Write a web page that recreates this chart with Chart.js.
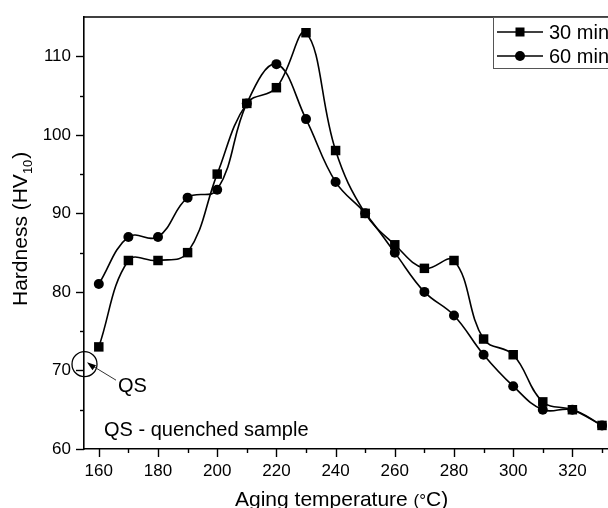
<!DOCTYPE html>
<html><head><meta charset="utf-8">
<script src="https://cdn.jsdelivr.net/npm/chart.js@4.4.1/dist/chart.umd.min.js"></script>
<style>
html,body{margin:0;padding:0;background:#fff;overflow:hidden;width:608px;height:508px;}
#wrap{position:absolute;left:0;top:0;width:640px;height:508px;}
</style></head>
<body><div id="wrap"><canvas id="c"></canvas></div>
<script>
const temperatures = [160,170,180,190,200,210,220,230,240,250,260,270,280,290,300,310,320,330];
const hv30 = [73,84,84,85,95,104,106,113,98,90,86,83,84,74,72,66,65,63];
const hv60 = [81,87,87,92,93,104,109,102,94,90,85,80,77,72,68,65,65,63];
const seriesNames = ['30 min','60 min'];
const xTicks = [160,170,180,190,200,210,220,230,240,250,260,270,280,290,300,310,320,330];
const xLabels = [160,180,200,220,240,260,280,300,320];
const yTicks = [60,65,70,75,80,85,90,95,100,105,110];
const yLabels = [60,70,80,90,100,110];
const qsPoint = {x:155, y:70.8};

const FONT = '"Liberation Sans", Arial, sans-serif';

const deco = {
  id:'deco',
  afterDraw(chart){
    const ctx = chart.ctx, ca = chart.chartArea;
    const xs = chart.scales.x, ys = chart.scales.y;
    ctx.save();
    ctx.strokeStyle = '#000';
    // top border
    ctx.lineWidth = 1.6;
    ctx.beginPath(); ctx.moveTo(ca.left, ca.top); ctx.lineTo(chart.width, ca.top); ctx.stroke();
    // tick marks
    ctx.lineWidth = 1.4;
    yTicks.forEach(v=>{
      const p = Math.round(ys.getPixelForValue(v))+0.5;
      const L = (v%10===0)?8:4;
      ctx.beginPath(); ctx.moveTo(ca.left-L, p); ctx.lineTo(ca.left, p); ctx.stroke();
    });
    xTicks.forEach(v=>{
      const p = Math.round(xs.getPixelForValue(v))+0.5;
      const L = (v%20===0)?8:4;
      ctx.beginPath(); ctx.moveTo(p, ca.bottom); ctx.lineTo(p, ca.bottom+L); ctx.stroke();
    });
    // axis titles
    ctx.fillStyle = '#000';
    ctx.textBaseline = 'alphabetic';
    ctx.textAlign = 'left';
    let x = 235, y = 506;
    ctx.font = '21px ' + FONT;
    const t1 = 'Aging temperature ';
    ctx.fillText(t1, x, y); x += ctx.measureText(t1).width;
    ctx.font = '17px ' + FONT;
    ctx.fillText('(°', x, y); x += ctx.measureText('(°').width;
    ctx.font = '21px ' + FONT;
    ctx.fillText('C)', x, y);
    // y title rotated
    ctx.save();
    ctx.translate(27, 306);
    ctx.rotate(-Math.PI/2);
    let yx = 0;
    ctx.font = '21px ' + FONT;
    ctx.fillText('Hardness (HV', 0, 0); yx += ctx.measureText('Hardness (HV').width;
    ctx.font = '13px ' + FONT;
    ctx.fillText('10', yx, 5); yx += ctx.measureText('10').width + 1;
    ctx.font = '21px ' + FONT;
    ctx.fillText(')', yx, 0);
    ctx.restore();
    // annotation
    const cx = xs.getPixelForValue(qsPoint.x), cy = ys.getPixelForValue(qsPoint.y);
    ctx.lineWidth = 1.3;
    ctx.beginPath(); ctx.arc(cx+0.5, cy, 12.5, 0, Math.PI*2); ctx.stroke();
    ctx.strokeStyle = '#333'; ctx.lineWidth = 1;
    ctx.beginPath(); ctx.moveTo(cx+4, cy-1); ctx.lineTo(cx+32, cy+16); ctx.stroke();
    ctx.fillStyle = '#000';
    ctx.beginPath(); ctx.moveTo(cx+3, cy-2); ctx.lineTo(cx+12, cy+1); ctx.lineTo(cx+8.5, cy+6); ctx.closePath(); ctx.fill();
    ctx.font = '20px ' + FONT;
    ctx.fillText('QS', cx+34, cy+28);
    ctx.fillText('QS - quenched sample', 104, 436);
    // legend
    ctx.strokeStyle = '#555'; ctx.lineWidth = 1;
    ctx.strokeRect(493.5, ca.top+0.5, 200, 51);
    ctx.strokeStyle = '#000'; ctx.lineWidth = 1.5;
    const rows = [32, 56];
    rows.forEach((ry,i)=>{
      ctx.beginPath(); ctx.moveTo(497, ry); ctx.lineTo(543, ry); ctx.stroke();
      ctx.fillStyle = '#000';
      if(i===0){ ctx.fillRect(515.5, ry-4.5, 9, 9); }
      else { ctx.beginPath(); ctx.arc(520, ry, 5, 0, Math.PI*2); ctx.fill(); }
      ctx.font = '20px ' + FONT;
      ctx.textBaseline = 'middle';
      ctx.fillText(seriesNames[i], 549, ry+1);
    });
    ctx.restore();
  }
};

new Chart(document.getElementById('c'), {
  type:'line',
  data:{
    datasets:[
      {label:seriesNames[0], data:temperatures.map((t,i)=>({x:t,y:hv30[i]})),
       borderColor:'#000', backgroundColor:'#000', borderWidth:1.6, tension:0.4,
       pointStyle:'rect', pointRadius:6.7, pointBorderWidth:0, pointHoverRadius:6.7, clip:false},
      {label:seriesNames[1], data:temperatures.map((t,i)=>({x:t,y:hv60[i]})),
       borderColor:'#000', backgroundColor:'#000', borderWidth:1.6, tension:0.4,
       pointStyle:'circle', pointRadius:5, pointBorderWidth:0, pointHoverRadius:5, clip:false}
    ]
  },
  options:{
    responsive:true, maintainAspectRatio:false, animation:false,
    layout:{padding:{left:0, top:17, right:8.4, bottom:0}},
    plugins:{legend:{display:false}, tooltip:{enabled:false}},
    events:[],
    scales:{
      x:{type:'linear', min:155, max:340,
         afterBuildTicks(s){ s.ticks = xTicks.map(v=>({value:v})); },
         afterFit(s){ s.height = 59; s.paddingLeft = 0; s.paddingRight = 0; },
         grid:{display:true, drawOnChartArea:false, drawTicks:false},
         border:{display:true, color:'#000', width:1.6},
         ticks:{autoSkip:false, maxRotation:0, padding:12, color:'#000', font:{family:FONT, size:17},
                callback:(v)=> xLabels.includes(v) ? String(v) : ''}},
      y:{type:'linear', min:60, max:115,
         afterBuildTicks(s){ s.ticks = yTicks.map(v=>({value:v})); },
         afterFit(s){ s.width = 84; s.paddingTop = 0; s.paddingBottom = 0; },
         grid:{display:true, drawOnChartArea:false, drawTicks:false},
         border:{display:true, color:'#000', width:1.6},
         ticks:{autoSkip:false, padding:13, color:'#000', font:{family:FONT, size:17},
                callback:(v)=> yLabels.includes(v) ? String(v) : ''}}
    }
  },
  plugins:[deco]
});
</script></body></html>
